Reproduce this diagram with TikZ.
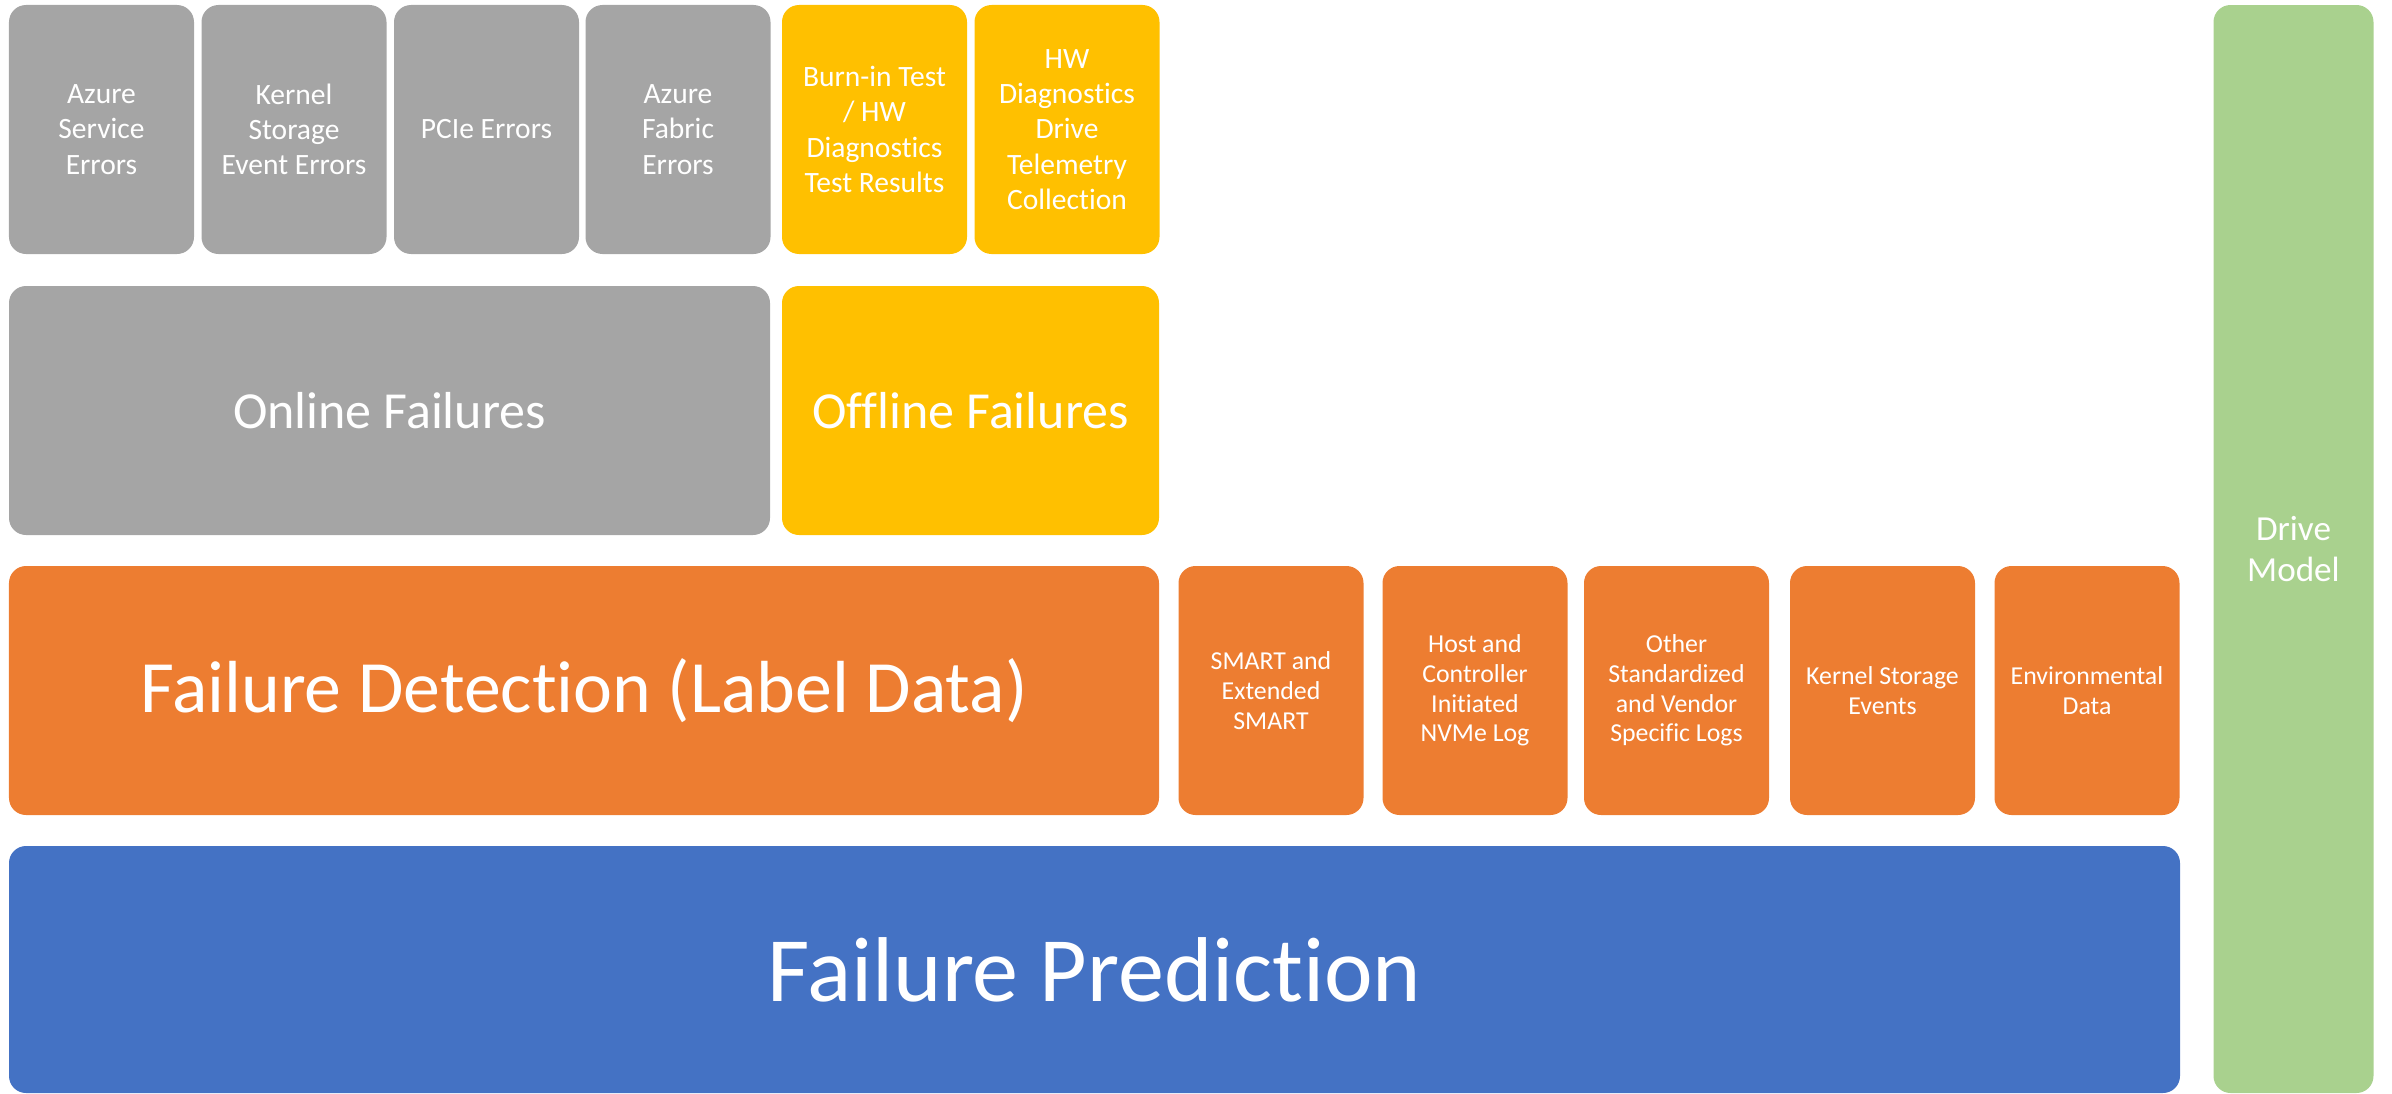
\documentclass[tikz,border=0pt]{standalone}
\usepackage{fontspec}
\setsansfont{Carlito}[RawFeature={-liga;-clig;-calt;-dlig}]
\definecolor{onlinegrey}{HTML}{A5A5A5}
\definecolor{offlinegold}{HTML}{FFC000}
\definecolor{detectorange}{HTML}{ED7D31}
\definecolor{predictblue}{HTML}{4472C4}
\definecolor{modelgreen}{HTML}{A9D18E}

\begin{document}
\begin{tikzpicture}[font=\sffamily]
    \tikzstyle{block}=[rectangle,rounded corners=0.17cm,inner sep=0pt,align=center,text=white]
    \tikzstyle{source}=[block,minimum width=1.85cm,minimum height=2.49cm,font=\sffamily\fontsize{8.4}{10}\selectfont]
    \tikzstyle{feature}=[block,minimum width=1.85cm,minimum height=2.49cm,fill=detectorange,font=\sffamily\fontsize{7.35}{8.45}\selectfont]

    \useasboundingbox (0,0) rectangle (23.92,-10.94);

    % error sources
    \node[source,fill=onlinegrey] (azsvc) at (1.015,-1.295) {Azure\\Service\\Errors};
    \node[source,fill=onlinegrey] (kernel) at (2.94,-1.295) {Kernel\\Storage\\Event Errors};
    \node[source,fill=onlinegrey] (pcie) at (4.865,-1.295) {PCIe Errors};
    \node[source,fill=onlinegrey] (fabric) at (6.78,-1.295) {Azure\\Fabric\\Errors};
    \node[source,fill=offlinegold] (burnin) at (8.745,-1.295) {Burn-in Test\\/ HW\\Diagnostics\\Test Results};
    \node[source,fill=offlinegold] (hwdiag) at (10.67,-1.295) {HW\\Diagnostics\\Drive\\Telemetry\\Collection};

    % failure kinds
    \node[block,fill=onlinegrey,minimum width=7.61cm,minimum height=2.49cm,font=\sffamily\fontsize{14.8}{17}\selectfont] (online) at (3.895,-4.105) {Online Failures};
    \node[block,fill=offlinegold,minimum width=3.77cm,minimum height=2.49cm,font=\sffamily\fontsize{14.8}{17}\selectfont] (offline) at (9.705,-4.105) {Offline Failures};

    % detection and telemetry
    \node[block,fill=detectorange,minimum width=11.5cm,minimum height=2.49cm,font=\sffamily\fontsize{21}{25}\selectfont] (detect) at (5.84,-6.905) {Failure Detection (Label Data)};
    \node[feature] (smart) at (12.71,-6.905) {SMART and\\Extended\\SMART};
    \node[feature] (nvme) at (14.75,-6.905) {Host and\\Controller\\Initiated\\NVMe Log};
    \node[feature] (vendor) at (16.765,-6.905) {Other\\Standardized\\and Vendor\\Specific Logs};
    \node[feature] (kevents) at (18.825,-6.905) {Kernel Storage\\Events};
    \node[feature] (envdata) at (20.87,-6.905) {Environmental\\Data};

    % prediction
    \node[block,fill=predictblue,minimum width=21.71cm,minimum height=2.47cm,font=\sffamily\fontsize{26.2}{31}\selectfont] (predict) at (10.945,-9.695) {Failure Prediction};

    \node[block,fill=modelgreen,minimum width=1.6cm,minimum height=10.88cm,font=\sffamily\fontsize{10}{11.4}\selectfont] (model) at (22.935,-5.49) {Drive\\Model};
\end{tikzpicture}
\end{document}
